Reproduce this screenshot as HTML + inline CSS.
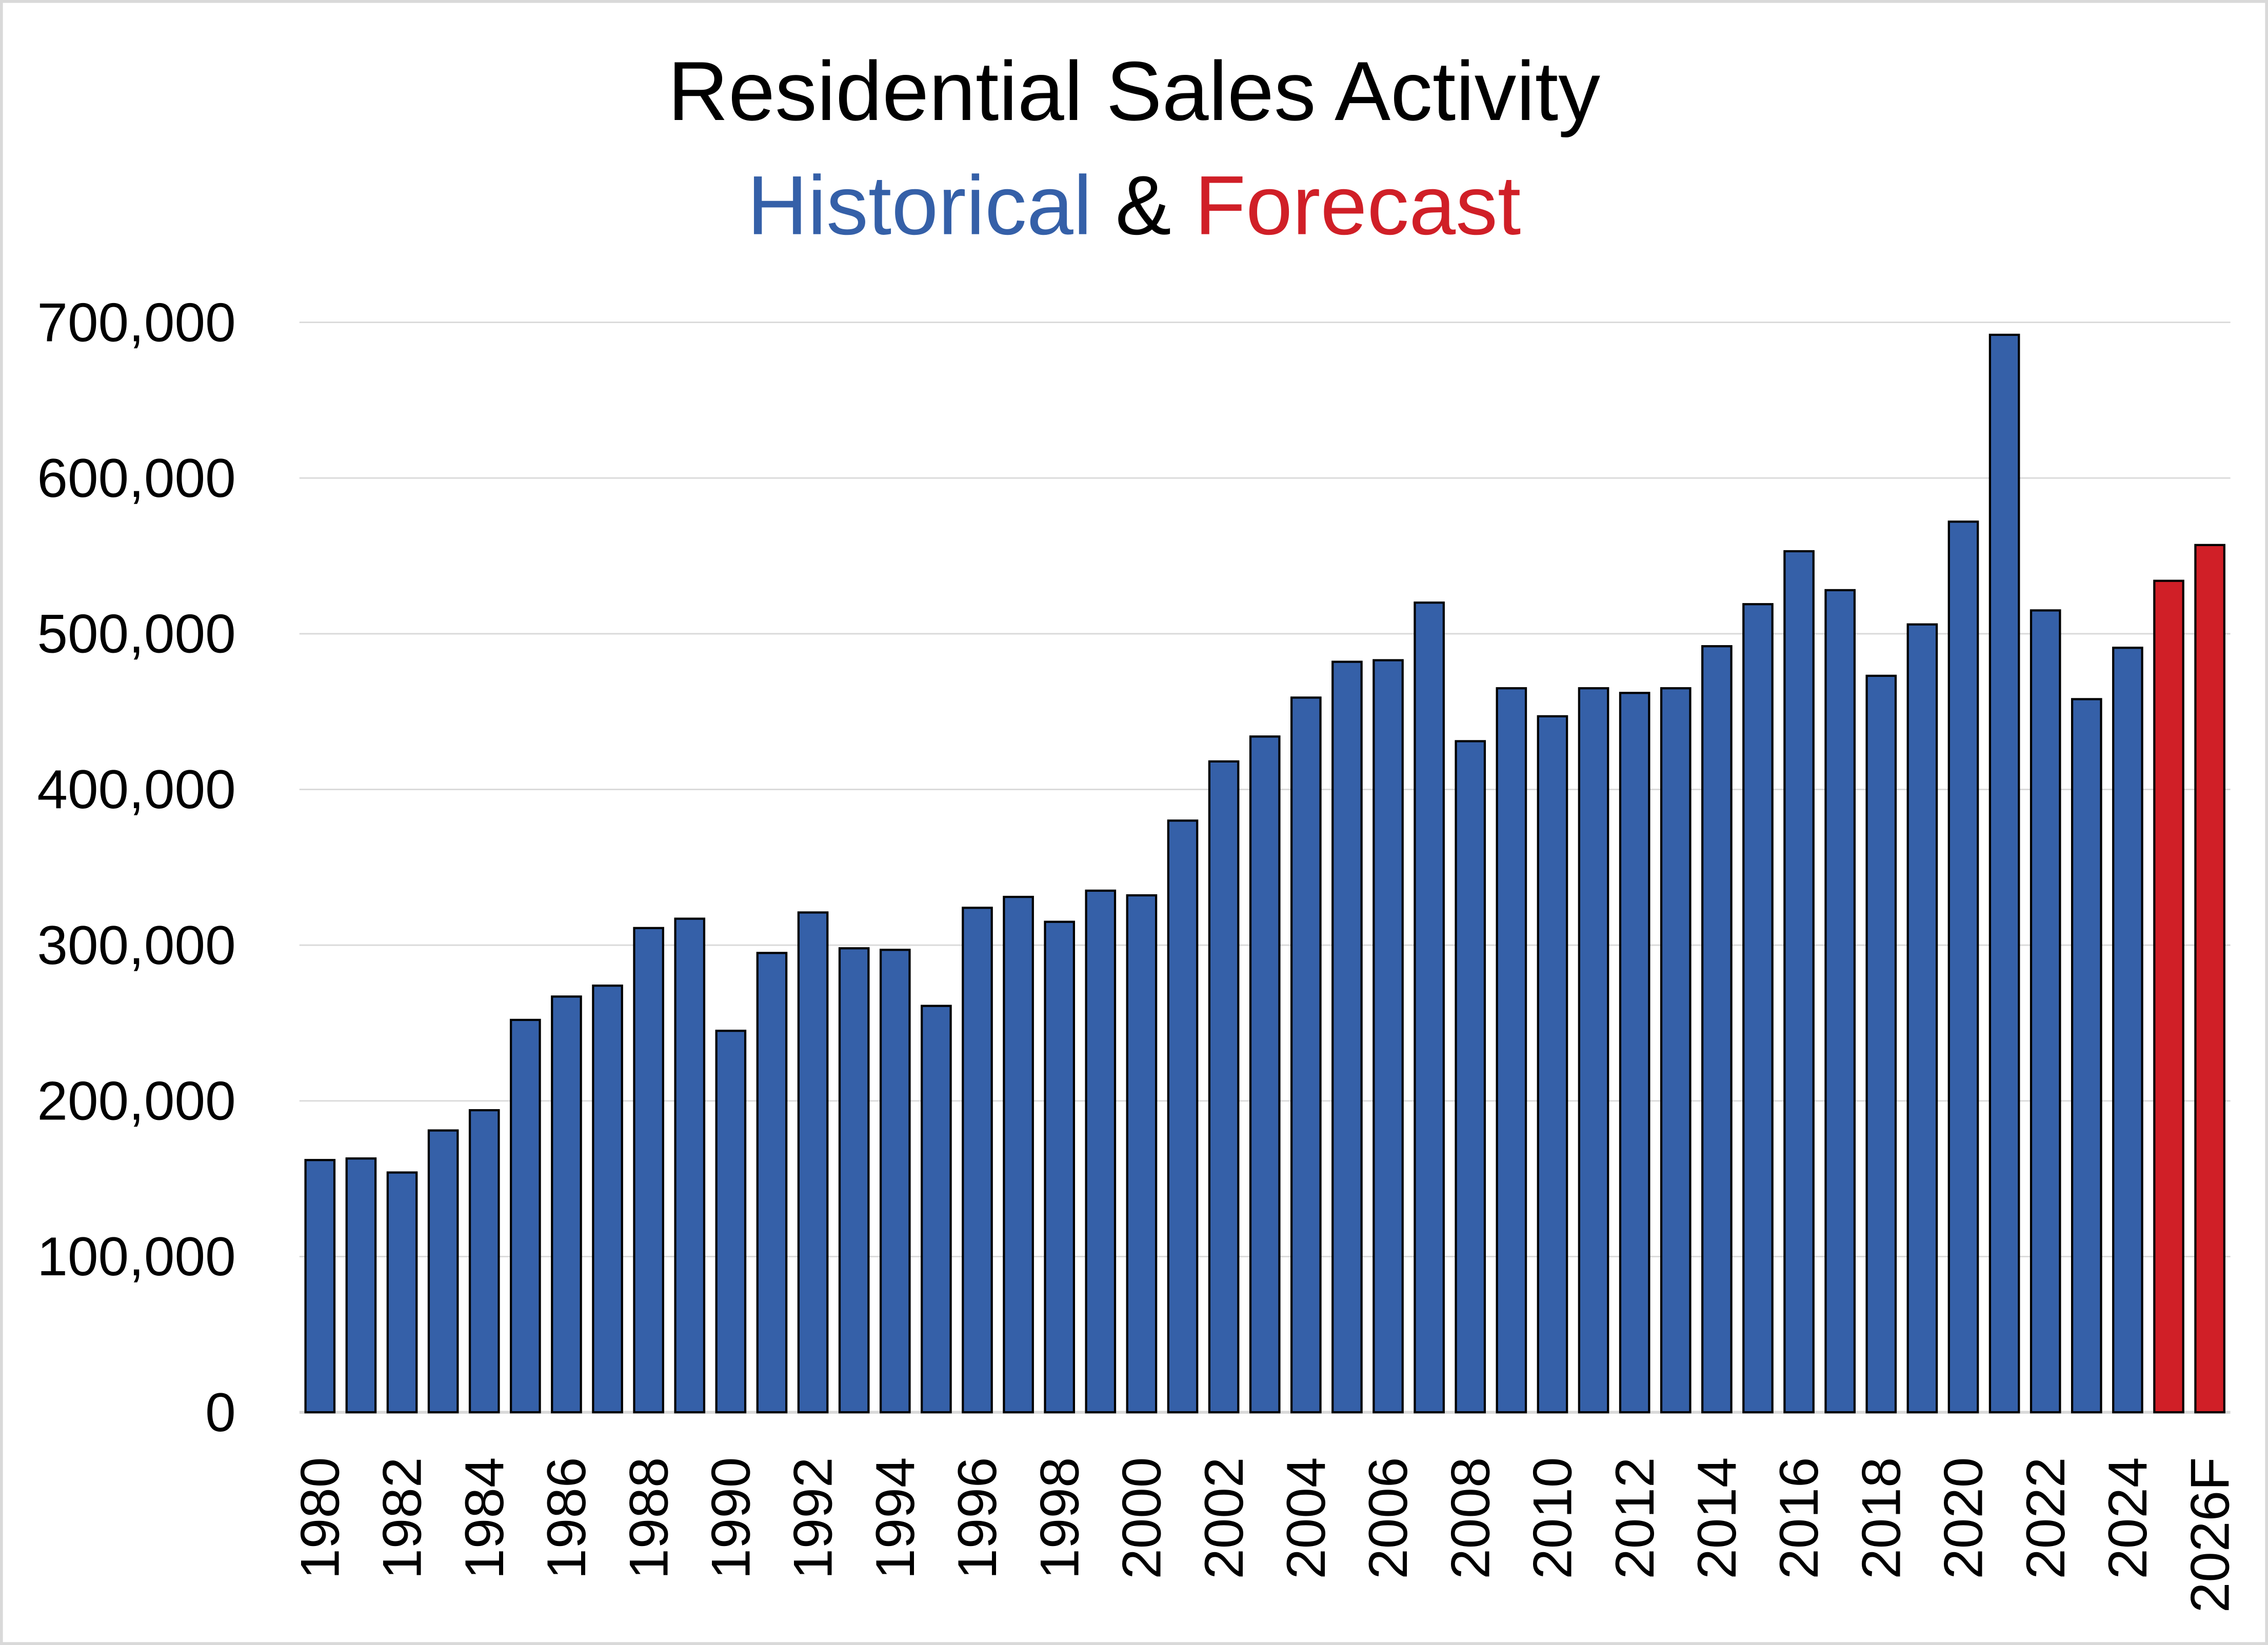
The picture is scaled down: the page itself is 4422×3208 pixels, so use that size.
<!DOCTYPE html>
<html><head><meta charset="utf-8"><style>
html,body{margin:0;padding:0;background:#fff;}
svg{display:block;font-family:"Liberation Sans",sans-serif;}
</style></head><body>
<svg id="chart" width="4422" height="3208" viewBox="0 0 1568 1138" preserveAspectRatio="none">
<rect x="1" y="1" width="1566" height="1136" fill="#fff" stroke="#d9d9d9" stroke-width="2"/>
<text x="784" y="83" font-size="58" text-anchor="middle" fill="#000">Residential Sales Activity</text>
<text x="784" y="162" font-size="58" text-anchor="middle"><tspan fill="#3560a8">Historical</tspan><tspan fill="#000"> &amp; </tspan><tspan fill="#d01f27">Forecast</tspan></text>
<g id="grid"></g><g id="bars"></g><g id="ylabels"></g><g id="xlabels"></g>
</svg>
<script>
const years = [1980,1981,1982,1983,1984,1985,1986,1987,1988,1989,1990,1991,1992,1993,1994,1995,1996,1997,1998,1999,2000,2001,2002,2003,2004,2005,2006,2007,2008,2009,2010,2011,2012,2013,2014,2015,2016,2017,2018,2019,2020,2021,2022,2023,2024,2025,"2026F"];
const sales = [162000,163000,154000,181000,194000,252000,267000,274000,311000,317000,245000,295000,321000,298000,297000,261000,324000,331000,315000,335000,332000,380000,418000,434000,459000,482000,483000,520000,431000,465000,447000,465000,462000,465000,492000,519000,553000,528000,473000,506000,572000,692000,515000,458000,491000,534000,557000];
const forecastFlags = years.map(y => y === 2025 || y === "2026F");
const yTicks = [0,100000,200000,300000,400000,500000,600000,700000];
const yTickLabels = ["0","100,000","200,000","300,000","400,000","500,000","600,000","700,000"];

const NS = "http://www.w3.org/2000/svg";
const plotL = 207, plotR = 1542, y0 = 977, y700 = 223;
const yScale = v => y0 - (v / 700000) * (y0 - y700);
const step = (plotR - plotL) / years.length;
const xCenter = i => plotL + step * (i + 0.5);
const barW = 20;

const grid = document.getElementById('grid');
yTicks.forEach((t, i) => {
  const l = document.createElementNS(NS, 'line');
  
  
  l.setAttribute('x1', plotL); l.setAttribute('x2', plotR);
  l.setAttribute('y1', yScale(t)); l.setAttribute('y2', yScale(t));
  l.setAttribute('stroke', '#d9d9d9'); l.setAttribute('stroke-width', i === 0 ? 2 : 1);
  grid.appendChild(l);
  const tx = document.createElementNS(NS, 'text');
  
  
  tx.setAttribute('x', 163); tx.setAttribute('y', yScale(t) + 13);
  tx.setAttribute('font-size', '38'); tx.setAttribute('text-anchor', 'end');
  tx.textContent = yTickLabels[i];
  document.getElementById('ylabels').appendChild(tx);
});

const bars = document.getElementById('bars');
sales.forEach((v, i) => {
  const r = document.createElementNS(NS, 'rect');
  
  
  const yt = yScale(v);
  r.setAttribute('x', xCenter(i) - barW / 2); r.setAttribute('y', yt);
  r.setAttribute('width', barW); r.setAttribute('height', y0 - yt);
  r.setAttribute('fill', forecastFlags[i] ? '#d01f27' : '#3560a8');
  r.setAttribute('stroke', '#000'); r.setAttribute('stroke-width', '1.5');
  bars.appendChild(r);
});

const xl = document.getElementById('xlabels');
years.forEach((y, i) => {
  if (i % 2 !== 0) return;
  const t = document.createElementNS(NS, 'text');
  
  
  const cx = xCenter(i) + 13, cy = 1008;
  t.setAttribute('x', cx); t.setAttribute('y', cy);
  t.setAttribute('font-size', '38'); t.setAttribute('text-anchor', 'end');
  t.setAttribute('transform', 'rotate(-90 ' + cx + ' ' + cy + ')');
  t.textContent = y;
  xl.appendChild(t);
});
</script>
</body></html>
